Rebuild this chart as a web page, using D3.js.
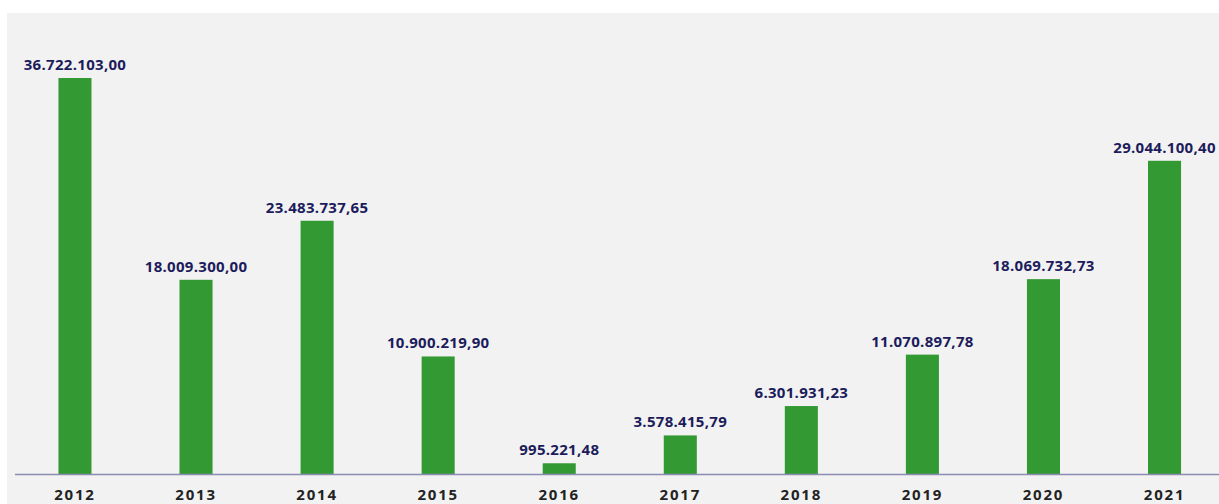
<!DOCTYPE html>
<html><head><meta charset="utf-8">
<script src="https://cdn.jsdelivr.net/npm/d3@7"></script>
<style>html,body{margin:0;padding:0;background:#fff;overflow:hidden}</style>
</head><body>
<svg id="c" width="1219" height="504"></svg>
<script>
const years = ["2012","2013","2014","2015","2016","2017","2018","2019","2020","2021"];
const values = [36722103.00, 18009300.00, 23483737.65, 10900219.90, 995221.48, 3578415.79, 6301931.23, 11070897.78, 18069732.73, 29044100.40];
const labels = ["36.722.103,00","18.009.300,00","23.483.737,65","10.900.219,90","995.221,48","3.578.415,79","6.301.931,23","11.070.897,78","18.069.732,73","29.044.100,40"];

const svg = d3.select("#c");
svg.append("rect").attr("x",7).attr("y",13).attr("width",1212).attr("height",491).attr("fill","#f2f2f2");

const baseY = 474;
const x = d3.scaleBand().domain(years).range([14.5, 1225]).paddingInner(0.727).paddingOuter(0.363);
const y = d3.scaleLinear().domain([0, 36722103]).range([baseY, 78]);

svg.selectAll("rect.bar").data(years).enter().append("rect")
  .attr("class","bar")
  .attr("x", d => x(d))
  .attr("width", x.bandwidth())
  .attr("y", (d,i) => y(values[i]))
  .attr("height", (d,i) => baseY - y(values[i]))
  .attr("fill","#339933");

svg.append("line").attr("x1",15).attr("x2",1219).attr("y1",baseY+0.5).attr("y2",baseY+0.5)
  .attr("stroke","#8c8cb4").attr("stroke-width",1.5);

svg.selectAll("text.val").data(years).enter().append("text")
  .attr("class","val")
  .attr("x", d => x(d) + x.bandwidth()/2)
  .attr("y", (d,i) => y(values[i]) - 8)
  .attr("text-anchor","middle")
  .attr("font-family","'Open Sans', sans-serif")
  .attr("font-weight","bold")
  .attr("font-size","15px")
  .attr("letter-spacing","0.3px")
  .attr("fill","#1c1c5c")
  .text((d,i) => labels[i]);

const xAxis = d3.axisBottom(x).tickSize(0).tickPadding(0);
const ag = svg.append("g").attr("transform",`translate(0,${baseY+21})`).call(xAxis);
ag.select(".domain").remove();
ag.selectAll("text")
  .attr("font-family","'Open Sans', sans-serif")
  .attr("font-weight","bold")
  .attr("font-size","15px")
  .attr("letter-spacing","1.8px")
  .attr("fill","#222")
  .attr("dy","0.35em");
</script>
</body></html>
